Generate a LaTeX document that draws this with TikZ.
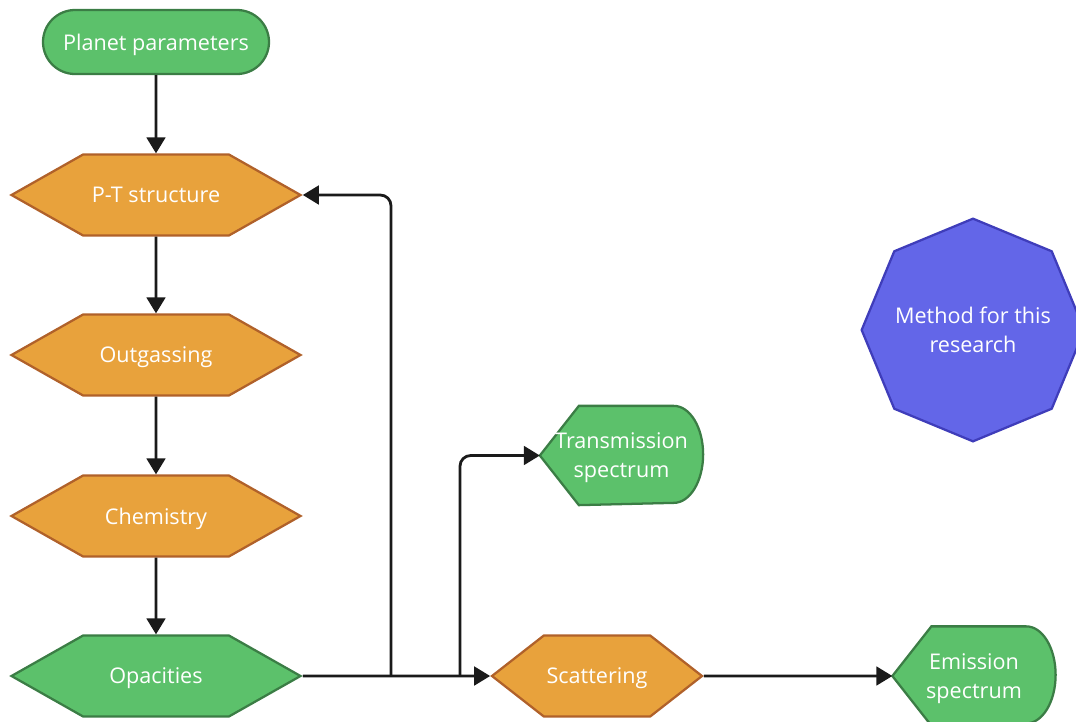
\documentclass[tikz,border=0pt]{standalone}
\usepackage{fontspec}
\setmainfont{Open Sans}
\usetikzlibrary{shapes.geometric,shapes.symbols,arrows.meta,backgrounds}

\definecolor{greenfill}{HTML}{5CC16B}
\definecolor{greenline}{HTML}{3B7D45}
\definecolor{orangefill}{HTML}{E8A23C}
\definecolor{orangeline}{HTML}{B0612A}
\definecolor{indigofill}{HTML}{6366E8}
\definecolor{indigoline}{HTML}{3F3DBA}
\definecolor{arrowline}{HTML}{1A1A1A}

\tikzset{
  base/.style={text=white, line width=1.7pt, font=\fontsize{16.2}{21.75}\selectfont, align=center, inner sep=0pt, text depth=0pt},
  terminal/.style={base, rectangle, rounded corners=24pt, draw=greenline, fill=greenfill, minimum width=169.5pt, minimum height=48pt},
  hexa/.style={base, signal, signal to=west and east, minimum height=60.75pt},
  orangehex/.style={hexa, draw=orangeline, fill=orangefill},
  greenhex/.style={hexa, draw=greenline, fill=greenfill},
  display/.style={base, minimum width=120.75pt, minimum height=72.75pt},
  octa/.style={base, regular polygon, regular polygon sides=8, shape border rotate=22.5, minimum size=167pt, draw=indigoline, fill=indigofill},
  flow/.style={line width=2.1pt, draw=arrowline, -{Triangle[length=12pt,width=14pt]}}
}

\begin{document}
\begin{tikzpicture}[x=0.75pt, y=-0.75pt]
\useasboundingbox (0,0) rectangle (1076,722);

\node[terminal] (1) at (156,42) {Planet parameters};
\node[orangehex, minimum width=216.75pt, signal pointer angle=59] (2) at (156,195) {P-T structure};
\node[orangehex, minimum width=216.75pt, signal pointer angle=59] (3) at (156,355) {Outgassing};
\node[orangehex, minimum width=216.75pt, signal pointer angle=59] (4) at (156,516) {Chemistry};
\node[greenhex, minimum width=216.75pt, signal pointer angle=59] (5) at (156,676) {Opacities};
\node[orangehex, minimum width=157.5pt, signal pointer angle=76] (6) at (597,676) {Scattering};
\node[display] (7) at (621.5,455.5) {Transmission\\spectrum};
\node[display] (8) at (974,676) {Emission\\spectrum};
\node[octa, label={[base]center:Method for this\\research}] (9) at (973,330) {};

% outline of the two spectrum nodes
\begin{scope}[on background layer]
\foreach \n in {7,8}
  \path[draw=greenline, fill=greenfill, line width=1.7pt] (\n.west) -- ([xshift=29.25pt]\n.north west) -- ([xshift=-22pt]\n.north east) arc[start angle=90, end angle=-90, x radius=22pt, y radius=36.375pt] -- ([xshift=29.25pt]\n.south west) -- cycle;
\end{scope}

\coordinate (j1) at (391,676);
\coordinate (j2) at (460,676);

\path[flow] (1) -- (2);
\path[flow] (2) -- (3);
\path[flow] (3) -- (4);
\path[flow] (4) -- (5);
\path[flow] (5) -- (6);
\path[flow] (6) -- (8);
\path[flow, rounded corners=8pt] (j1) |- (2);
\path[flow, rounded corners=8pt] (j2) |- (7);
\end{tikzpicture}
\end{document}
